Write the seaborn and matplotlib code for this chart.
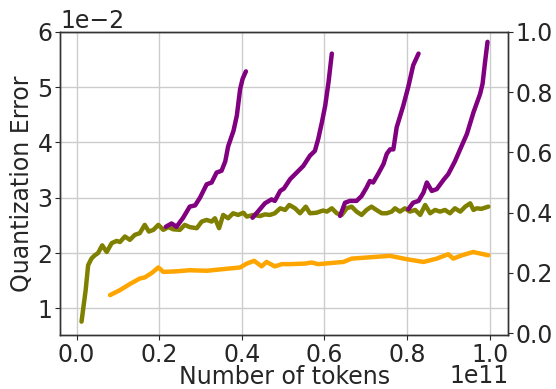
import numpy as np
import pandas as pd
import matplotlib
matplotlib.use("Agg")
import matplotlib.pyplot as plt
import seaborn as sns

# Training tokens (in units of 1e11) and quantization error (in units of 1e-2)
olive_x = [0.012, 0.022, 0.028, 0.036, 0.044, 0.052, 0.062, 0.073, 0.085, 0.097,
           0.105, 0.117, 0.129, 0.141, 0.153, 0.165, 0.175, 0.186, 0.198, 0.210,
           0.222, 0.234, 0.250, 0.262, 0.274, 0.291, 0.303, 0.315, 0.327, 0.335,
           0.345, 0.355, 0.367, 0.379, 0.391, 0.404, 0.412, 0.428, 0.444, 0.456,
           0.468, 0.480, 0.493, 0.505, 0.515, 0.529, 0.541, 0.555, 0.565, 0.581,
           0.597, 0.606, 0.618, 0.630, 0.642, 0.654, 0.666, 0.678, 0.690, 0.702,
           0.714, 0.726, 0.739, 0.751, 0.763, 0.771, 0.783, 0.795, 0.807, 0.820,
           0.832, 0.844, 0.856, 0.868, 0.880, 0.892, 0.904, 0.916, 0.929, 0.941,
           0.953, 0.961, 0.969, 0.980, 0.997]
olive_y = [0.76, 1.33, 1.78, 1.90, 1.96, 2.00, 2.14, 2.02, 2.18, 2.22,
           2.20, 2.30, 2.24, 2.33, 2.36, 2.51, 2.39, 2.42, 2.51, 2.42,
           2.47, 2.43, 2.42, 2.51, 2.47, 2.45, 2.57, 2.60, 2.57, 2.63,
           2.45, 2.69, 2.63, 2.72, 2.69, 2.73, 2.66, 2.69, 2.67, 2.70,
           2.69, 2.72, 2.81, 2.78, 2.87, 2.81, 2.72, 2.84, 2.72, 2.73,
           2.77, 2.75, 2.81, 2.72, 2.69, 2.81, 2.84, 2.75, 2.69, 2.78,
           2.84, 2.78, 2.72, 2.72, 2.75, 2.81, 2.75, 2.81, 2.75, 2.78,
           2.69, 2.87, 2.72, 2.78, 2.75, 2.78, 2.72, 2.81, 2.75, 2.84,
           2.90, 2.78, 2.81, 2.80, 2.84]

orange_x = [0.081, 0.105, 0.129, 0.153, 0.165, 0.182, 0.198, 0.210, 0.242, 0.274,
            0.315, 0.355, 0.396, 0.412, 0.430, 0.448, 0.460, 0.480, 0.497, 0.517,
            0.553, 0.569, 0.585, 0.646, 0.666, 0.703, 0.759, 0.799, 0.840, 0.872,
            0.900, 0.912, 0.933, 0.960, 0.997]
orange_y = [1.24, 1.33, 1.44, 1.54, 1.56, 1.64, 1.74, 1.66, 1.67, 1.69,
            1.68, 1.71, 1.74, 1.81, 1.86, 1.76, 1.84, 1.76, 1.80, 1.80,
            1.81, 1.83, 1.80, 1.84, 1.90, 1.92, 1.95, 1.89, 1.84, 1.90,
            1.98, 1.90, 1.96, 2.02, 1.96]

# Four restarts plotted against the right-hand axis
purple_x = [
    [0.216, 0.230, 0.242, 0.258, 0.274, 0.287, 0.299, 0.315, 0.327, 0.339,
     0.351, 0.360, 0.367, 0.380, 0.388, 0.396, 0.402, 0.410],
    [0.426, 0.440, 0.456, 0.472, 0.480, 0.493, 0.502, 0.517, 0.533, 0.549,
     0.565, 0.577, 0.585, 0.594, 0.602, 0.610, 0.618],
    [0.638, 0.650, 0.662, 0.678, 0.690, 0.702, 0.710, 0.718, 0.730, 0.743,
     0.751, 0.759, 0.767, 0.775, 0.791, 0.803, 0.815, 0.828],
    [0.803, 0.815, 0.828, 0.840, 0.848, 0.860, 0.872, 0.888, 0.900, 0.916,
     0.929, 0.945, 0.961, 0.977, 0.983, 0.989, 0.995],
]
purple_y = [
    [0.353, 0.364, 0.353, 0.383, 0.420, 0.424, 0.450, 0.494, 0.500, 0.533,
     0.539, 0.570, 0.620, 0.672, 0.722, 0.810, 0.844, 0.869],
    [0.383, 0.405, 0.431, 0.444, 0.439, 0.472, 0.480, 0.511, 0.533, 0.555,
     0.589, 0.605, 0.644, 0.700, 0.755, 0.833, 0.928],
    [0.389, 0.433, 0.439, 0.439, 0.455, 0.483, 0.505, 0.500, 0.528, 0.561,
     0.595, 0.610, 0.610, 0.683, 0.755, 0.817, 0.889, 0.928],
    [0.411, 0.433, 0.439, 0.467, 0.500, 0.472, 0.478, 0.508, 0.528, 0.570,
     0.611, 0.661, 0.733, 0.794, 0.828, 0.900, 0.967],
]

FS = 17

sns.set_style("ticks")
plt.rcParams["font.family"] = ["DejaVu Sans"]
plt.rcParams["font.size"] = FS

fig, ax = plt.subplots(figsize=(5.56, 3.89), dpi=100)
fig.subplots_adjust(left=0.108, right=0.914, top=0.918, bottom=0.139)

lw = 3.2
olive_df = pd.DataFrame({"tokens": np.array(olive_x) * 1e11,
                         "err": np.array(olive_y) * 1e-2})
orange_df = pd.DataFrame({"tokens": np.array(orange_x) * 1e11,
                          "err": np.array(orange_y) * 1e-2})
sns.lineplot(data=olive_df, x="tokens", y="err", ax=ax, color="olive",
             lw=lw, sort=False, estimator=None)
sns.lineplot(data=orange_df, x="tokens", y="err", ax=ax, color="orange",
             lw=lw, sort=False, estimator=None)

ax.set_xlim(-0.040e11, 1.045e11)
ax.set_ylim(0.0052, 0.06)
ax.set_xticks(np.arange(0, 1.01, 0.2) * 1e11)
ax.set_yticks(np.arange(1, 7) * 1e-2)
ax.ticklabel_format(axis="both", style="sci", scilimits=(0, 0))
ax.grid(True, color="#cccccc", lw=1.0)
ax.set_xlabel("Number of tokens", fontsize=FS, labelpad=-1)
ax.set_ylabel("Quantization Error", fontsize=FS, labelpad=2)
ax.tick_params(labelsize=FS, pad=2, length=3.5, width=0.8)
ax.xaxis.get_offset_text().set_fontsize(FS)
ax.yaxis.get_offset_text().set_fontsize(FS)
# pull the x exponent label up so it sits beside the axis title
ax.xaxis.OFFSETTEXTPAD = -1.5

ax2 = ax.twinx()
for px, py in zip(purple_x, purple_y):
    seg = pd.DataFrame({"tokens": np.array(px) * 1e11, "ratio": py})
    sns.lineplot(data=seg, x="tokens", y="ratio", ax=ax2, color="purple",
                 lw=lw, sort=False, estimator=None)
ax2.set_ylim(-0.006, 1.0)
ax2.set_yticks(np.arange(0, 1.01, 0.2))
ax2.set_ylabel("")
ax2.tick_params(labelsize=FS, pad=2, length=3.5, width=0.8)
ax2.grid(False)

for a in (ax, ax2):
    for s in a.spines.values():
        s.set_color("#333333")
        s.set_linewidth(1.0)

fig.savefig("out.png", dpi=100)
